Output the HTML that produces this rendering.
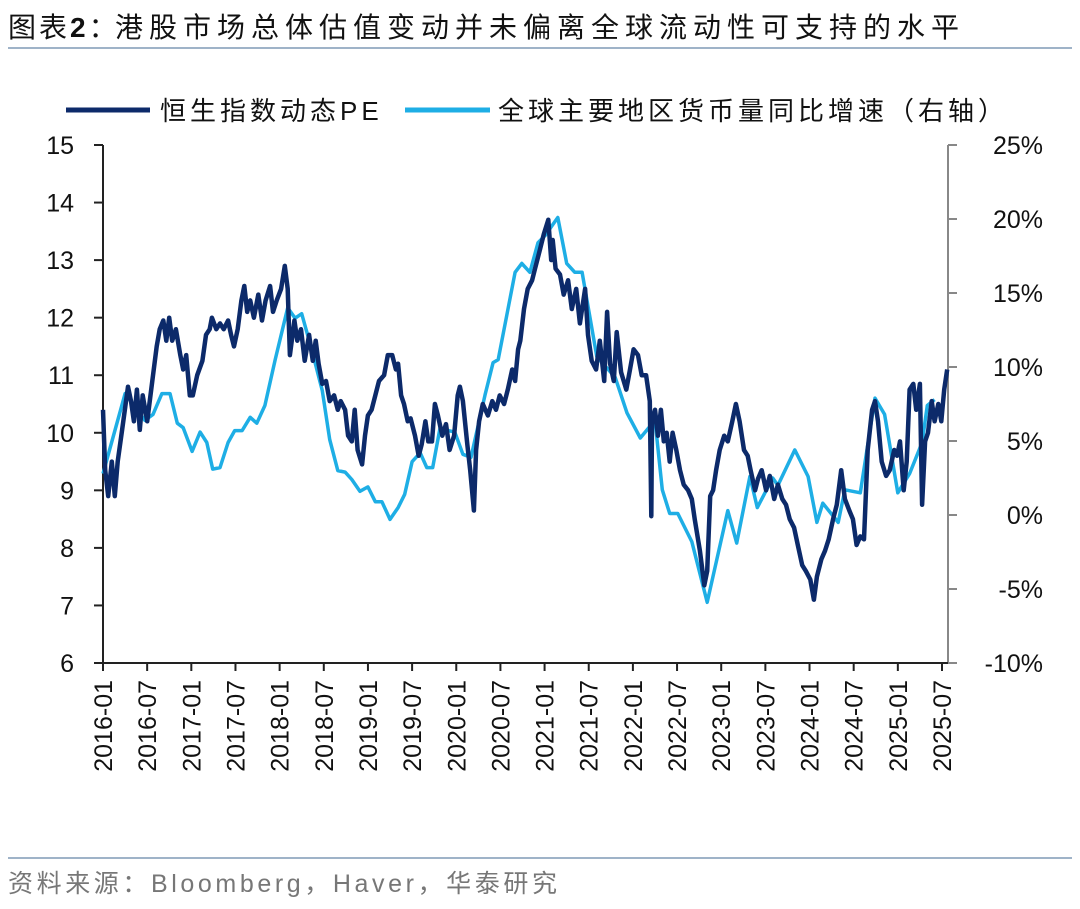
<!DOCTYPE html>
<html><head><meta charset="utf-8">
<style>
html,body{margin:0;padding:0;background:#fff;}
body{width:1080px;height:904px;overflow:hidden;font-family:"Liberation Sans","Noto Sans CJK SC",sans-serif;}
</style></head>
<body>
<svg id="chart" width="1080" height="904" xmlns="http://www.w3.org/2000/svg" font-family="Liberation Sans, Noto Sans CJK SC, sans-serif">
  <text x="8" y="37" font-size="28" fill="#111" letter-spacing="3">图表<tspan font-weight="bold">2</tspan>：<tspan x="115" letter-spacing="6">港股市场总体估值变动并未偏离全球流动性可支持的水平</tspan></text>
  <line x1="8" y1="48" x2="1072" y2="48" stroke="#9fb3c8" stroke-width="2"/>
  <g>
    <line x1="66" y1="110" x2="150" y2="110" stroke="#0c2a6a" stroke-width="5"/>
    <text x="160" y="120" font-size="26" fill="#111" letter-spacing="4">恒生指数动态PE</text>
    <line x1="405" y1="110" x2="490" y2="110" stroke="#1eaee5" stroke-width="5"/>
    <text x="498" y="120" font-size="26" fill="#111" letter-spacing="4">全球主要地区货币量同比增速（右轴）</text>
  </g>
  <g id="axes"></g>
  <g id="series"></g>
  <line x1="8" y1="858" x2="1072" y2="858" stroke="#9fb3c8" stroke-width="2"/>
  <text x="8" y="892" font-size="25" fill="#777" letter-spacing="3.6">资料来源：Bloomberg，Haver，华泰研究</text>
</svg>
<script>
// months since 2016-01
const xTickLabels = ["2016-01","2016-07","2017-01","2017-07","2018-01","2018-07","2019-01","2019-07","2020-01","2020-07","2021-01","2021-07","2022-01","2022-07","2023-01","2023-07","2024-01","2024-07","2025-01","2025-07"];
const leftTicks = [6,7,8,9,10,11,12,13,14,15];
const rightTicks = [-10,-5,0,5,10,15,20,25];
const peDates = [0,0.3,0.7,1.2,1.6,2.0,2.6,3.4,3.8,4.2,4.6,5.0,5.4,6.0,6.7,7.3,7.7,8.2,8.6,9.0,9.4,9.9,10.5,10.9,11.3,11.8,12.2,12.8,13.5,14.0,14.5,14.8,15.4,15.9,16.4,17.0,17.4,17.8,18.3,18.8,19.2,19.6,20.0,20.5,21.1,21.6,22.1,22.7,23.1,23.6,24.2,24.7,25.1,25.4,26.0,26.4,26.9,27.4,28.0,28.5,28.9,29.3,29.8,30.3,30.8,31.4,31.9,32.3,32.9,33.3,33.8,34.2,34.6,35.2,35.6,36.0,36.5,37.0,37.5,38.2,38.7,39.3,39.8,40.1,40.5,40.9,41.4,41.8,42.4,42.9,43.3,43.8,44.2,44.7,45.1,45.5,46.1,46.6,47.1,47.7,48.2,48.5,48.9,49.5,49.9,50.4,50.7,51.1,51.6,52.3,52.9,53.4,53.9,54.5,55.0,55.6,56.0,56.4,56.7,57.2,57.7,58.3,58.7,59.4,59.9,60.5,60.9,61.1,61.5,62.1,62.6,63.2,63.7,64.3,64.8,65.5,65.9,66.4,67.0,67.5,68.1,68.5,68.9,69.4,69.8,70.4,71.1,71.6,72.1,72.7,73.2,73.8,74.3,74.5,74.6,75.0,75.4,75.8,76.2,76.6,77.0,77.4,77.9,78.4,78.9,79.5,80.0,80.4,81.1,81.7,82.1,82.5,82.9,83.3,83.8,84.4,84.9,85.5,86.0,86.5,87.1,87.6,88.0,88.6,89.0,89.5,90.1,90.6,91.2,91.7,92.3,92.8,93.3,93.9,94.4,95.0,95.5,96.1,96.6,97.0,97.6,98.1,98.6,99.2,99.7,100.3,100.8,101.4,101.9,102.4,102.9,103.4,103.9,104.5,104.9,105.3,105.8,106.4,106.9,107.5,107.9,108.3,108.8,109.2,109.6,110.1,110.5,111.0,111.3,111.7,112.1,112.6,113.0,113.5,113.9,114.3,114.7];
const peValues = [10.4,9.35,8.9,9.5,8.9,9.5,10.05,10.8,10.55,10.2,10.75,10.05,10.65,10.2,10.9,11.5,11.8,11.95,11.6,12.0,11.6,11.8,11.35,11.1,11.35,10.65,10.65,11.0,11.25,11.7,11.8,12.0,11.8,11.9,11.8,11.95,11.7,11.5,11.8,12.3,12.55,12.1,12.3,12.0,12.4,11.95,12.3,12.55,12.1,12.3,12.5,12.9,12.5,11.35,11.95,11.6,11.8,11.25,11.7,11.25,11.6,11.2,10.85,10.9,10.55,10.65,10.4,10.55,10.4,9.95,9.85,10.4,9.7,9.45,9.95,10.3,10.4,10.65,10.9,11.0,11.35,11.35,11.1,11.2,10.65,10.5,10.2,10.25,9.95,9.6,9.8,10.2,9.85,9.85,10.5,10.3,9.95,10.15,9.7,9.95,10.65,10.8,10.55,9.8,9.35,8.65,9.7,10.2,10.5,10.3,10.55,10.4,10.65,10.5,10.75,11.1,10.9,11.45,11.6,12.15,12.5,12.65,12.85,13.2,13.45,13.7,13.0,13.35,12.85,12.75,12.4,12.65,12.15,12.5,11.9,12.5,11.7,11.25,11.1,11.6,10.9,12.1,11.2,10.9,11.75,11.05,10.75,11.1,11.45,11.35,11.0,11.0,10.55,8.55,10.2,10.4,9.95,10.4,9.85,10.0,9.5,10.0,9.7,9.35,9.1,9.0,8.85,8.5,7.95,7.35,7.6,8.9,9.0,9.35,9.7,9.95,9.85,10.2,10.5,10.2,9.7,9.6,9.35,9.0,9.2,9.35,9.0,9.25,8.85,9.1,8.85,8.75,8.5,8.35,8.05,7.7,7.6,7.45,7.1,7.5,7.8,7.95,8.15,8.5,8.75,9.35,8.85,8.65,8.5,8.05,8.2,8.15,9.7,10.4,10.55,10.2,9.5,9.25,9.35,9.7,9.6,9.85,9.0,9.5,10.75,10.85,10.4,10.85,8.75,9.85,10.0,10.55,10.2,10.5,10.2,10.75,11.1];
const m2Dates = [0,3.0,5.7,6.8,8.0,9.1,10.1,10.9,12.1,13.2,14.1,14.9,15.9,17.0,17.9,18.9,20.0,20.9,22.0,23.4,25.1,26.1,27.0,28.4,29.8,30.8,31.9,32.9,33.8,34.9,36.0,37.0,37.9,39.0,40.1,41.0,42.0,43.1,44.0,44.8,45.8,46.9,47.8,48.9,50.0,51.9,53.0,53.7,56.0,56.9,58.0,59.1,60.1,61.8,63.0,64.1,65.1,67.1,69.6,71.2,73.0,75.0,76.0,77.0,78.1,80.0,82.1,84.9,86.1,87.9,88.9,91.0,91.7,94.0,95.8,97.0,97.8,99.9,100.8,102.9,104.9,106.2,108.0,109.6,111.3,112.0,113.0];
const m2Values = [2.8,8.2,6.4,6.8,8.2,8.2,6.2,5.9,4.3,5.6,4.9,3.1,3.2,4.9,5.7,5.7,6.6,6.2,7.4,10.5,14.0,13.3,13.6,11.1,8.4,5.1,3.0,2.9,2.4,1.6,1.9,0.9,0.9,-0.3,0.5,1.4,3.6,4.2,3.2,3.2,5.9,5.7,5.6,4.1,3.9,8.1,10.3,10.5,16.4,17.0,16.4,18.4,18.9,20.1,17.0,16.4,16.4,10.7,9.3,6.9,5.2,6.4,1.7,0.1,0.1,-1.8,-5.9,0.3,-1.9,2.6,0.5,2.5,2.0,4.4,2.6,-0.5,0.8,-0.5,1.7,1.5,7.9,6.8,1.5,2.8,4.9,7.4,7.8];

const NS="http://www.w3.org/2000/svg";
const X0=103, X1=948, Y0=145, Y1=663;
const monthPx = (942-103)/114;
function xS(t){return X0+t*monthPx;}
function yL(v){return Y0+(15-v)*(Y1-Y0)/9;}
function yR(p){return Y0+(25-p)*(Y1-Y0)/35;}
function mk(tag,attrs,parent){const e=document.createElementNS(NS,tag);for(const k in attrs)e.setAttribute(k,attrs[k]);parent.appendChild(e);return e;}
const ax=document.getElementById('axes'), sr=document.getElementById('series');

let e=mk('line',{x1:X0,y1:Y0,x2:X0,y2:Y1,stroke:'#222','stroke-width':2},ax);


e=mk('line',{x1:X1,y1:Y0,x2:X1,y2:Y1,stroke:'#888','stroke-width':2},ax);


e=mk('line',{x1:X0,y1:Y1,x2:X1,y2:Y1,stroke:'#222','stroke-width':2},ax);



leftTicks.forEach(v=>{
  const y=yL(v);
  const t=mk('line',{x1:X0-9,y1:y,x2:X0,y2:y,stroke:'#222','stroke-width':2},ax);
  
  
  const l=mk('text',{x:74,y:y+9,'font-size':25,'text-anchor':'end',fill:'#111'},ax);
  l.textContent=v;
  
  
});
rightTicks.forEach(p=>{
  const y=yR(p);
  const t=mk('line',{x1:X1,y1:y,x2:X1+9,y2:y,stroke:'#888','stroke-width':2},ax);
  
  
  const l=mk('text',{x:1043,y:y+9,'font-size':25,'text-anchor':'end',fill:'#111'},ax);
  l.textContent=p+'%';
  
  
});
xTickLabels.forEach((s,i)=>{
  const x=xS(i*6);
  const t=mk('line',{x1:x,y1:Y1,x2:x,y2:Y1+8,stroke:'#222','stroke-width':2},ax);
  
  
  const l=mk('text',{x:0,y:0,'font-size':25,'text-anchor':'end',fill:'#111',transform:`translate(${x+9},${Y1+17}) rotate(-90)`},ax);
  l.textContent=s;
  
  
});

let d=m2Dates.map((t,i)=>(i?'L':'M')+xS(t).toFixed(1)+','+yR(m2Values[i]).toFixed(1)).join('');
e=mk('path',{d:d,fill:'none',stroke:'#1eaee5','stroke-width':3.5,'stroke-linejoin':'round'},sr);


d=peDates.map((t,i)=>(i?'L':'M')+xS(t).toFixed(1)+','+yL(peValues[i]).toFixed(1)).join('');
e=mk('path',{d:d,fill:'none',stroke:'#0c2a6a','stroke-width':4.5,'stroke-linejoin':'round'},sr);


</script>
</body></html>
